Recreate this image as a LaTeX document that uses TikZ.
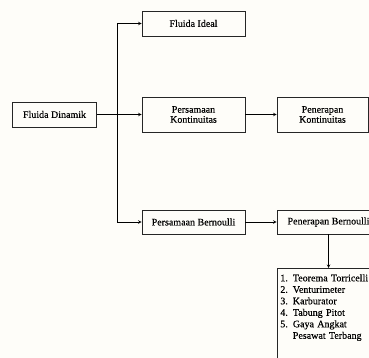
\documentclass[tikz,border=0pt]{standalone}
\usepackage{fontspec}
\setmainfont{Liberation Serif}[UprightFeatures={FakeBold=0.3}]
\usepackage{tikz}
\tikzset{>=stealth}
\tikzset{box/.style={draw=black!85, line width=0.7pt, inner sep=3pt, align=center, font=\fontsize{10}{10}\selectfont}}

\begin{document}
\begin{tikzpicture}[x=1pt, y=1pt, line width=0.6pt]
    \useasboundingbox (0,0) rectangle (369,-358);
    \fill[color={rgb,255:red,254;green,253;blue,249}] (0,0) rectangle (369,-358);
    \clip (0,0) rectangle (369,-358);
    \node (dinamik) at (54.5,-114.5) [box, minimum width=84, minimum height=25] {Fluida Dinamik};
    \node (ideal) at (193.5,-23.5) [box, minimum width=103, minimum height=25] {Fluida Ideal};
    \node (kontinuitas) at (193.5,-114.5) [box, minimum width=103, minimum height=35] {Persamaan\\Kontinuitas};
    \node (penkont) at (322.5,-114.5) [box, minimum width=91, minimum height=35] {Penerapan\\Kontinuitas};
    \node (bernoulli) at (193.5,-222) [box, minimum width=103, minimum height=24] {Persamaan Bernoulli};
    \node (penbern) at (328.5,-222) [box, minimum width=103, minimum height=24] {Penerapan Bernoulli};
    \node (aplikasi) at (277,-268) [box, anchor=north west, align=left, inner ysep=6pt, text width=110, font=\fontsize{10}{11.5}\selectfont]
        {1.\enspace Teorema Torricelli\\2.\enspace Venturimeter\\3.\enspace Karburator\\4.\enspace Tabung Pitot\\5.\enspace Gaya Angkat\\\phantom{5.}\enspace Pesawat Terbang\\\rule{0pt}{30pt}};
    \coordinate (cabang) at ([xshift=20]dinamik.east);
    \draw[->] (dinamik.east) -- (kontinuitas.west);
    \draw[->] (cabang) |- (ideal.west);
    \draw[->] (cabang) |- (bernoulli.west);
    \draw[->] (kontinuitas.east) -- (penkont.west);
    \draw[->] (bernoulli.east) -- (penbern.west);
    \draw[->] (penbern.south) -- (aplikasi.north -| penbern.south);
\end{tikzpicture}
\end{document}
